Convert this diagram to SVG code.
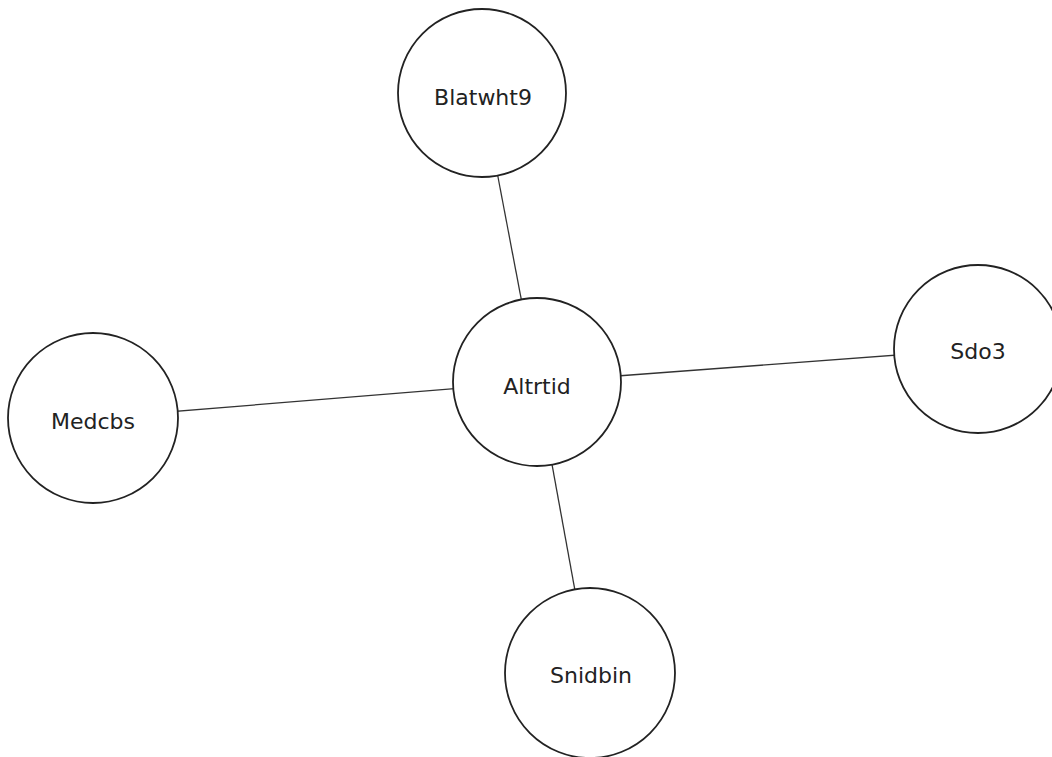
<svg xmlns="http://www.w3.org/2000/svg" width="1052" height="757" viewBox="0 0 1052 757">
<style>
.edge{stroke:#333;stroke-width:1.3;fill:none}
.node circle{fill:#fff;stroke:#222;stroke-width:1.8}
.node text{font-family:"DejaVu Sans",sans-serif;font-size:22px;fill:#222;text-anchor:middle;dominant-baseline:central}
</style>
<rect width="1052" height="757" fill="#fff"/>
<g id="edges">
<line class="edge" x1="537" y1="382" x2="482" y2="93"/>
<line class="edge" x1="537" y1="382" x2="978" y2="349"/>
<line class="edge" x1="537" y1="382" x2="93" y2="418"/>
<line class="edge" x1="537" y1="382" x2="590" y2="673"/>
</g>
<g id="node-Blatwht9" class="node"><circle cx="482" cy="93" r="84"/><text x="483" y="97">Blatwht9</text></g>
<g id="node-Altrtid" class="node"><circle cx="537" cy="382" r="84"/><text x="537" y="386">Altrtid</text></g>
<g id="node-Sdo3" class="node"><circle cx="978" cy="349" r="84"/><text x="978" y="351">Sdo3</text></g>
<g id="node-Medcbs" class="node"><circle cx="93" cy="418" r="85"/><text x="93" y="421">Medcbs</text></g>
<g id="node-Snidbin" class="node"><circle cx="590" cy="673" r="85"/><text x="591" y="675">Snidbin</text></g>
</svg>
